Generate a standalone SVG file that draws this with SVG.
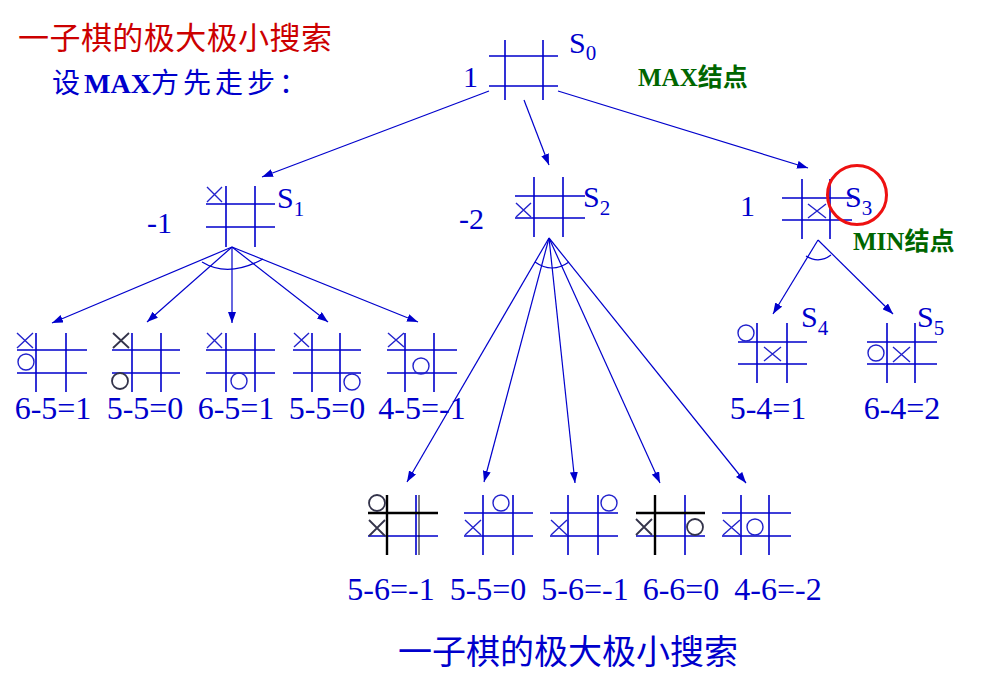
<svg xmlns="http://www.w3.org/2000/svg" width="992" height="698" viewBox="0 0 992 698">
<defs>
<marker id="ah" markerUnits="userSpaceOnUse" markerWidth="11" markerHeight="8" refX="11" refY="4" orient="auto">
<path d="M0,0 L11,4 L0,8 z" fill="#0000cc"/>
</marker>
</defs>
<style>
.g{stroke:#0000cc;stroke-width:1.6;fill:none}
.k{stroke:#000;stroke-width:2.4;fill:none}
.p{stroke:#2222cc;stroke-width:1.4;fill:none}
.d{stroke:#33334a;stroke-width:1.8;fill:none}
.c{stroke:#0000cc;stroke-width:1.2;fill:none}
.ca{stroke:#0000cc;stroke-width:1.2;fill:none;marker-end:url(#ah)}
.lab{font-family:"Liberation Serif","Times New Roman",serif;font-size:32px;fill:#0000cc}
.val{font-family:"Liberation Serif","Times New Roman",serif;font-size:30px;fill:#0000cc}
.s{font-family:"Liberation Serif","Times New Roman",serif;font-size:30px;fill:#0000cc}
.cn{font-family:"Liberation Serif","Noto Sans CJK SC",serif}
</style>
<rect width="992" height="698" fill="#fff"/>

<g id="title">
<text x="18" y="49" class="cn" font-size="31" fill="#cc0000" textLength="314" lengthAdjust="spacing">一子棋的极大极小搜索</text>
<text x="52" y="93" class="cn" font-size="28" fill="#0000cc"><tspan letter-spacing="4">设</tspan><tspan font-weight="bold">MAX</tspan><tspan letter-spacing="4">方先走步：</tspan></text>
</g>

<g id="connectors">
<line class="ca" x1="489" y1="91" x2="262" y2="177"/>
<line class="ca" x1="524" y1="100" x2="549" y2="165"/>
<line class="ca" x1="558" y1="91" x2="808" y2="168"/>
<line class="ca" x1="232" y1="247" x2="52" y2="323"/>
<line class="ca" x1="232" y1="247" x2="147" y2="322"/>
<line class="ca" x1="232" y1="247" x2="232" y2="323"/>
<line class="ca" x1="232" y1="247" x2="328" y2="322"/>
<line class="ca" x1="232" y1="247" x2="418" y2="322"/>
<path class="c" d="M202,262 Q228,278 263,259"/>
<line class="ca" x1="549" y1="238" x2="407" y2="482"/>
<line class="ca" x1="549" y1="238" x2="484" y2="482"/>
<line class="ca" x1="549" y1="238" x2="575" y2="483"/>
<line class="ca" x1="549" y1="238" x2="660" y2="483"/>
<line class="ca" x1="549" y1="238" x2="746" y2="483"/>
<path class="c" d="M535,262 Q552,274 569,262"/>
<line class="ca" x1="818" y1="240" x2="773" y2="314"/>
<line class="ca" x1="818" y1="240" x2="893" y2="314"/>
<path class="c" d="M806,256 Q819,264 831,255"/>
</g>

<g id="S0">
<path class="g" d="M505,40V100M543,40V100M489,56H558M489,86H558"/>
<text class="val" x="463" y="87">1</text>
<text class="s" x="569" y="53">S<tspan dy="7" font-size="21">0</tspan></text>
<text class="cn" x="638" y="86" font-size="25" font-weight="bold" fill="#006600">MAX结点</text>
</g>

<g id="S1">
<path class="g" d="M226,186V247M255,186V247M206,204H275M206,227H275"/>
<path class="p" d="M207,187L222,202M222,187L207,202"/>
<text class="val" x="147" y="233">-1</text>
<text class="s" x="277" y="208">S<tspan dy="8" font-size="21">1</tspan></text>
</g>

<g id="S2">
<path class="g" d="M534,177V237M563,177V237M515,196H585M515,218H585"/>
<path class="p" d="M516,203L531,217M531,203L516,217"/>
<text class="val" x="459" y="229">-2</text>
<text class="s" x="583" y="207">S<tspan dy="8" font-size="21">2</tspan></text>
</g>

<g id="S3">
<path class="g" d="M802,179V239M830,179V239M782,198H852M782,220H852"/>
<path class="p" d="M808,204L826,218M826,204L808,218"/>
<text class="val" x="740" y="216">1</text>
<text class="s" x="845" y="207">S<tspan dy="8" font-size="21">3</tspan></text>
<circle cx="857" cy="195" r="29.5" fill="none" stroke="#ee1111" stroke-width="3"/>
<text class="cn" x="853" y="250" font-size="25" font-weight="bold" fill="#006600">MIN结点</text>
</g>

<g id="L1">
<path class="g" d="M36,333V392M66,333V392M17,350H87M17,373H87"/>
<path class="p" d="M17,333L33,348M33,333L17,348"/>
<circle class="p" cx="26" cy="362" r="8"/>
<text class="lab" x="53" y="419" text-anchor="middle">6-5=1</text>
</g>
<g id="L2">
<path class="g" d="M132,333V392M161,333V392M112,350H180M112,373H180"/>
<path class="d" d="M113,333L129,348M129,333L113,348"/>
<circle class="d" cx="120" cy="381" r="8"/>
<text class="lab" x="145" y="419" text-anchor="middle">5-5=0</text>
</g>
<g id="L3">
<path class="g" d="M226,333V392M255,333V392M206,350H275M206,373H275"/>
<path class="p" d="M207,333L222,348M222,333L207,348"/>
<circle class="p" cx="239" cy="381" r="8"/>
<text class="lab" x="236" y="419" text-anchor="middle">6-5=1</text>
</g>
<g id="L4">
<path class="g" d="M312,333V392M340,333V392M293,350H361M293,373H361"/>
<path class="p" d="M294,333L309,347M309,333L294,347"/>
<circle class="p" cx="352" cy="382" r="8"/>
<text class="lab" x="327" y="419" text-anchor="middle">5-5=0</text>
</g>
<g id="L5">
<path class="g" d="M405,333V392M434,333V392M387,350H457M387,373H457"/>
<path class="p" d="M388,333L404,347M404,333L388,347"/>
<circle class="p" cx="421" cy="366" r="8"/>
<text class="lab" x="422" y="419" text-anchor="middle">4-5=-1</text>
</g>

<g id="S4">
<path class="g" d="M757,323V383M787,323V383M738,342H807M738,364H807"/>
<circle class="p" cx="746" cy="333" r="8"/>
<path class="p" d="M764,347L781,361M781,347L764,361"/>
<text class="s" x="801" y="327">S<tspan dy="8" font-size="21">4</tspan></text>
<text class="lab" x="768" y="419" text-anchor="middle">5-4=1</text>
</g>
<g id="S5">
<path class="g" d="M887,323V383M915,323V383M867,342H937M867,364H937"/>
<circle class="p" cx="876" cy="353" r="8"/>
<path class="p" d="M893,347L910,362M910,347L893,362"/>
<text class="s" x="917" y="327">S<tspan dy="8" font-size="21">5</tspan></text>
<text class="lab" x="902" y="419" text-anchor="middle">6-4=2</text>
</g>

<g id="M1">
<path class="g" d="M416,495V555M368,536H438"/>
<path class="k" d="M387,495V555M368,513H438"/>
<path stroke="#000" stroke-width="1" d="M419,495V555"/>
<circle class="d" cx="377" cy="503" r="8"/>
<path class="d" d="M369,520L385,536M385,520L369,536"/>
<text class="lab" x="391" y="600" text-anchor="middle">5-6=-1</text>
</g>
<g id="M2">
<path class="g" d="M483,495V555M513,495V555M464,513H533M464,536H533"/>
<circle class="p" cx="501" cy="503" r="8"/>
<path class="p" d="M465,520L481,535M481,520L465,535"/>
<text class="lab" x="488" y="600" text-anchor="middle">5-5=0</text>
</g>
<g id="M3">
<path class="g" d="M568,495V555M598,495V555M550,513H618M550,536H618"/>
<circle class="p" cx="609" cy="503" r="8"/>
<path class="p" d="M551,520L567,535M567,520L551,535"/>
<text class="lab" x="585" y="600" text-anchor="middle">5-6=-1</text>
</g>
<g id="M4">
<path class="g" d="M685,495V555M636,536H705"/>
<path class="k" d="M655,495V555M636,513H705"/>
<path class="d" d="M636,519L652,535M652,519L636,535"/>
<circle class="d" cx="695" cy="527" r="8"/>
<text class="lab" x="681" y="600" text-anchor="middle">6-6=0</text>
</g>
<g id="M5">
<path class="g" d="M741,495V555M769,495V555M722,513H791M722,536H791"/>
<path class="p" d="M723,520L740,535M740,520L723,535"/>
<circle class="p" cx="755" cy="527" r="8"/>
<text class="lab" x="778" y="600" text-anchor="middle">4-6=-2</text>
</g>

<g id="caption">
<text x="398" y="664" class="cn" font-size="34" fill="#0000cc">一子棋的极大极小搜索</text>
</g>
</svg>
